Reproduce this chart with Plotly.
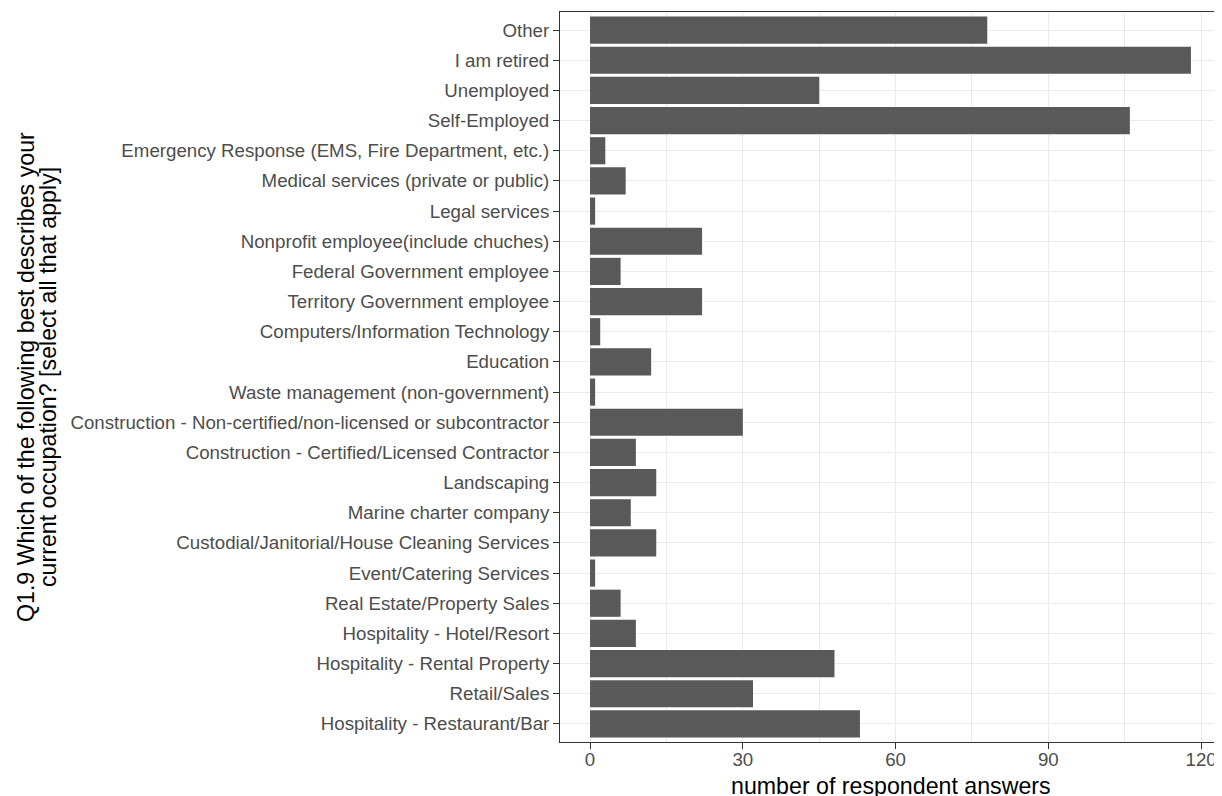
import plotly.graph_objects as go

categories = [
    "Other",
    "I am retired",
    "Unemployed",
    "Self-Employed",
    "Emergency Response (EMS, Fire Department, etc.)",
    "Medical services (private or public)",
    "Legal services",
    "Nonprofit employee(include chuches)",
    "Federal Government employee",
    "Territory Government employee",
    "Computers/Information Technology",
    "Education",
    "Waste management (non-government)",
    "Construction - Non-certified/non-licensed or subcontractor",
    "Construction - Certified/Licensed Contractor",
    "Landscaping",
    "Marine charter company",
    "Custodial/Janitorial/House Cleaning Services",
    "Event/Catering Services",
    "Real Estate/Property Sales",
    "Hospitality - Hotel/Resort",
    "Hospitality - Rental Property",
    "Retail/Sales",
    "Hospitality - Restaurant/Bar",
]
counts = [78, 118, 45, 106, 3, 7, 1, 22, 6, 22, 2, 12, 1, 30, 9, 13, 8, 13, 1, 6, 9, 48, 32, 53]
x_ticks = [0, 30, 60, 90, 120]
x_title = "number of respondent answers"
y_title_lines = [
    "Q1.9 Which of the following best describes your",
    "current occupation? [select all that apply]",
]

W, H = 1214, 788
L, R, T, B = 552, 1, 4, 54
PW = W - L - R
PH = H - T - B

TICK_FONT = 18.7
TITLE_FONT = 23.2

fig = go.Figure(
    go.Bar(
        y=categories,
        x=counts,
        orientation="h",
        width=0.9,
        marker=dict(color="#595959", line=dict(width=0)),
    )
)

fig.update_layout(
    width=W,
    height=H,
    margin=dict(l=L, r=R, t=T, b=B, pad=0),
    paper_bgcolor="white",
    plot_bgcolor="white",
    font=dict(family="Liberation Sans, Arial, sans-serif", size=TICK_FONT, color="#4d4d4d"),
    showlegend=False,
    bargap=0.1,
)

fig.update_xaxes(
    range=[-5.9, 123.9],
    tickvals=x_ticks,
    ticktext=[str(v) for v in x_ticks],
    showgrid=True,
    gridcolor="#ebebeb",
    gridwidth=1.2,
    minor=dict(dtick=15, tick0=15, showgrid=True, gridcolor="#ebebeb", gridwidth=0.6, ticks=""),
    zeroline=False,
    ticks="outside",
    ticklen=6,
    tickwidth=1,
    tickcolor="#333333",
    tickfont=dict(size=TICK_FONT, color="#4d4d4d"),
    ticklabelstandoff=-5,
    showline=True,
    linecolor="#333333",
    linewidth=1,
    mirror=True,
    automargin=False,
)

fig.update_yaxes(
    categoryorder="array",
    categoryarray=categories[::-1],
    range=[-0.6, len(categories) - 0.4],
    showgrid=True,
    gridcolor="#ebebeb",
    gridwidth=1.2,
    zeroline=False,
    ticks="outside",
    ticklen=6,
    tickwidth=1,
    tickcolor="#333333",
    tickfont=dict(size=TICK_FONT, color="#4d4d4d"),
    showline=True,
    linecolor="#333333",
    linewidth=1,
    mirror=True,
    automargin=False,
)

fig.add_annotation(
    text=x_title,
    xref="paper",
    yref="paper",
    x=0.5,
    y=-44 / PH,
    xanchor="center",
    yanchor="middle",
    showarrow=False,
    font=dict(size=TITLE_FONT, color="black"),
)

# two-line rotated y-axis title with ggplot-like tight line spacing
for line, cx in zip(y_title_lines, [18, 40]):
    fig.add_annotation(
        text=line,
        xref="paper",
        yref="paper",
        x=(cx - L) / PW,
        y=0.5,
        xanchor="center",
        yanchor="middle",
        textangle=-90,
        showarrow=False,
        font=dict(size=TITLE_FONT, color="black"),
    )

fig.write_html("out.html")
